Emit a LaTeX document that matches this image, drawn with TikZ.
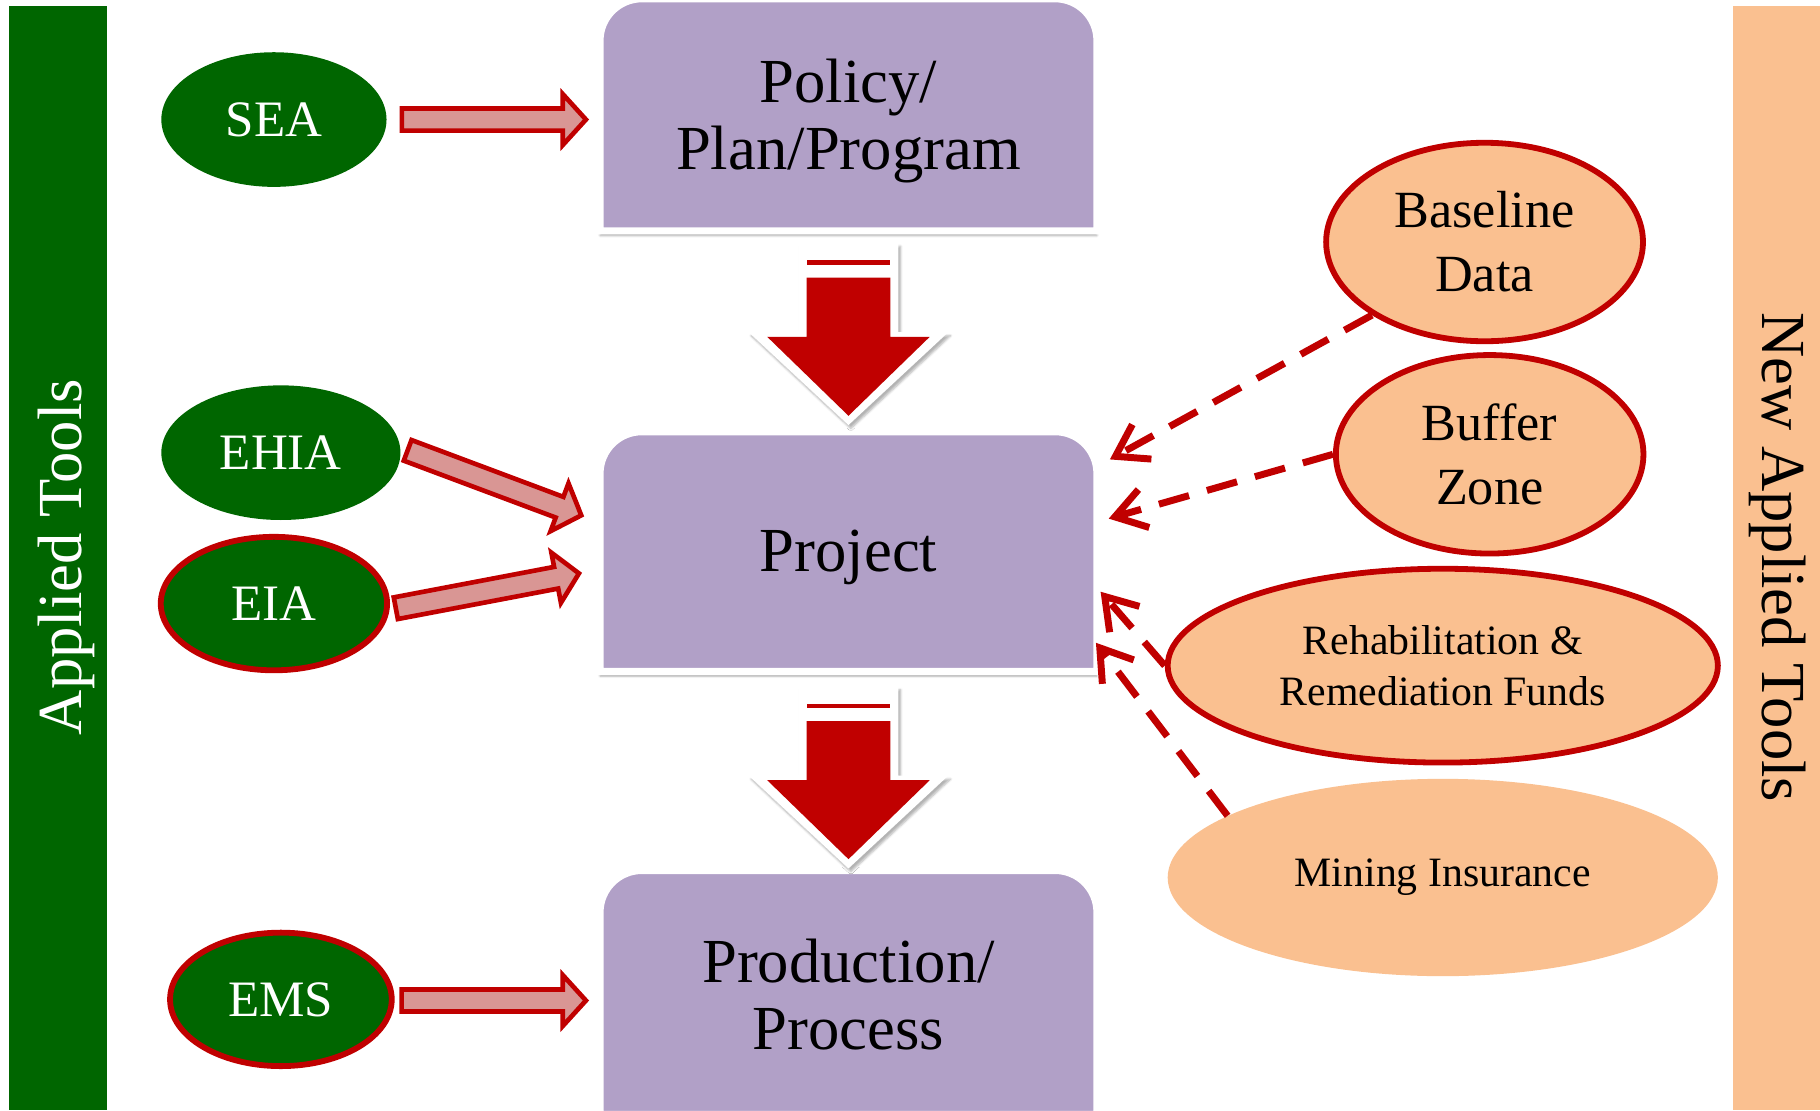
\documentclass[tikz,border=0pt]{standalone}
\usepackage{fontspec}
\setmainfont{Liberation Serif}
\usetikzlibrary{shapes.geometric,arrows.meta,calc,shadows.blur}
\definecolor{dgreen}{HTML}{006600}
\definecolor{peach}{HTML}{FAC090}
\definecolor{purp}{HTML}{B1A0C7}
\definecolor{dred}{HTML}{C00000}
\definecolor{pink}{HTML}{D99694}
\newcommand\blockarrow[2]{%
  \draw[barrow] let \p1=(#1), \p2=(#2), \n1={atan2(\y2-\y1,\x2-\x1)}, \n2={veclen(\x2-\x1,\y2-\y1)} in
    [shift={(\p1)}, rotate=\n1] (0,-9.5) -- ({\n2-20},-9.5) -- ({\n2-20},-22) -- (\n2,0) -- ({\n2-20},22) -- ({\n2-20},9.5) -- (0,9.5) -- cycle;}
\newcommand\topround[4]{% left, top, right, bottom
  \path[boxshape] (#1,#4) [rounded corners=36pt] -- (#1,#2) -- (#3,#2) [sharp corners] -- (#3,#4) -- cycle;}
\begin{document}
\begin{tikzpicture}[x=1pt,y=-1pt,
  box/.style={minimum width=422pt, inner sep=0pt, align=center, font=\fontsize{54pt}{58pt}\selectfont},
  boxshape/.style={fill=purp, draw=white, line width=6pt,
    blur shadow={shadow xshift=0pt, shadow yshift=-4pt, shadow opacity=35, shadow blur steps=6}},
  greenell/.style={ellipse, fill=dgreen, text=white, inner sep=0pt, font=\fontsize{44pt}{50pt}\selectfont},
  redrim/.style={draw=dred, line width=5pt},
  peachell/.style={ellipse, fill=peach, inner sep=0pt, align=center},
  barrow/.style={draw=dred, fill=pink, line width=4pt, line join=miter},
  dasharr/.style={draw=dred, line width=6pt, dash pattern=on 27pt off 16pt,
    -{Straight Barb[length=26pt,width=34pt]}},
  downarr/.pic={
    \fill[white, blur shadow={shadow xshift=2pt, shadow yshift=-3pt, shadow opacity=30, shadow blur steps=5}]
      (-43,12) -- (43,12) -- (43,89) -- (86,89) -- (0,169) -- (-86,89) -- (-43,89) -- cycle;
    \fill[dred] (-36,27) rectangle (36,31);
    \fill[dred] (-36,42) -- (36,42) -- (36,93) -- (70,93) -- (0,161) -- (-70,93) -- (-36,93) -- cycle;
  }]
\useasboundingbox (0,0) rectangle (1568,957);
% side bars
\fill[dgreen] (8,5) rectangle (92,956);
\fill[peach] (1493,5) rectangle (1568,956);
\node[rotate=90, text=white, font=\fontsize{54pt}{60pt}\selectfont] (lt) at (57,480) {Applied Tools};
\node[rotate=-90, font=\fontsize{54pt}{60pt}\selectfont] (rt) at (1531,480) {New Applied Tools};
% box shapes
\topround{517}{-1}{945}{199}
\topround{517}{372}{945}{578.5}
\topround{517}{750}{945}{960}
% boxes (text)
\node[box, minimum height=195pt] (policy) at (731,99.5) {};
\node[box, minimum height=201pt] (project) at (731,476.5) {};
\node[box, minimum height=206pt] (prod) at (731,855) {};
\node[box] (policyt) at ($(policy.center)+(0,5)$) {Policy/\\Plan/Program};
\node[box] (projectt) at ($(project.center)+(0,4)$) {Project};
\node[box] (prodt) at ($(prod.center)+(0,2)$) {Production/\\Process};
% big down arrows
\pic at (policy.south) {downarr};
\pic at ($(project.south)+(0,2)$) {downarr};
% left ellipses
\node[greenell, minimum width=194pt, minimum height=116pt] (sea) at (236,103) {SEA};
\node[greenell, minimum width=206pt, minimum height=116pt] (ehia) at (242,390) {EHIA};
\node[greenell, redrim, minimum width=195pt, minimum height=115pt] (eia) at (236,520) {EIA};
\node[greenell, redrim, minimum width=191pt, minimum height=115pt] (ems) at (242,861) {EMS};
% block arrows
\coordinate (s1) at ($(sea.east)+(13,0)$);
\coordinate (e1) at ($(policy.west|-sea.east)+(-15,0)$);
\coordinate (s2) at ($(ehia.east)+(6,-2)$);
\coordinate (e2) at ($(project.west)+(-19,-32.5)$);
\coordinate (s3) at ($(eia.east)+(5,4)$);
\coordinate (e3) at ($(project.west)+(-21,17.5)$);
\coordinate (s4) at ($(ems.east)+(6,1)$);
\coordinate (e4) at ($(prod.west)+(-15,7)$);
\blockarrow{s1}{e1}
\blockarrow{s2}{e2}
\blockarrow{s3}{e3}
\blockarrow{s4}{e4}
% right ellipses
\node[peachell, redrim, minimum width=273pt, minimum height=171pt, font=\fontsize{45pt}{55pt}\selectfont] (base) at (1279,208.5) {Baseline\\Data};
\node[peachell, redrim, minimum width=265pt, minimum height=171pt, font=\fontsize{45pt}{55pt}\selectfont] (buf) at (1283.4,391.4) {Buffer\\Zone};
\node[peachell, redrim, minimum width=474pt, minimum height=167pt, font=\fontsize{36pt}{44pt}\selectfont] (rehab) at (1243,573.5) {Rehabilitation \&\\Remediation Funds};
\node[peachell, minimum width=474pt, minimum height=170pt, font=\fontsize{36pt}{44pt}\selectfont] (mine) at (1243,756) {Mining Insurance};
% dashed arrows
\coordinate (t1) at ($(project.north east)+(14,20)$);
\coordinate (t2) at ($(project.north east)+(13,71)$);
\coordinate (t3) at ($(project.north east)+(6,134)$);
\coordinate (t4) at ($(project.north east)+(2,178)$);
\draw[dasharr] (base.213) -- (t1);
\draw[dasharr] (buf.west) -- (t2);
\draw[dasharr] (rehab.west) -- (t3);
\draw[dasharr] (mine.164) -- (t4);
\end{tikzpicture}
\end{document}
